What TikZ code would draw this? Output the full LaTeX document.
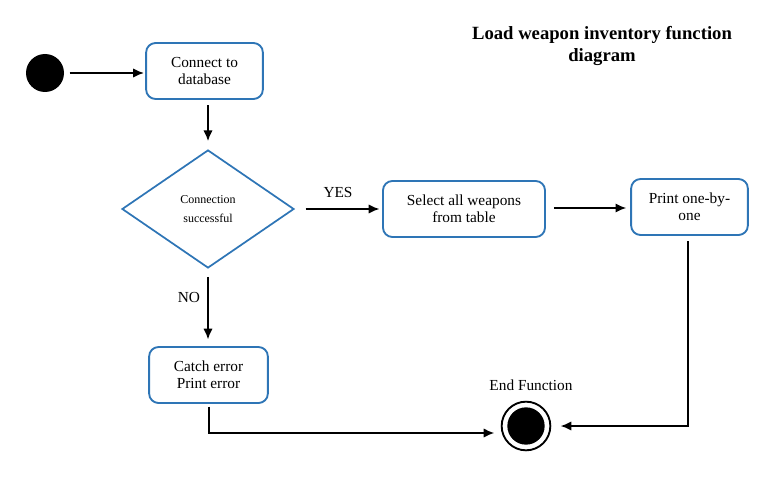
\documentclass[tikz,border=0pt]{standalone}
\usepackage{fontspec}
\setmainfont{Liberation Serif}
\usepackage{tikz}
\usetikzlibrary{shapes.geometric, arrows.meta}
\definecolor{boxblue}{RGB}{46,117,182}

\begin{document}
\begin{tikzpicture}[x=0.75pt, y=-0.75pt,
    act/.style={draw=boxblue, line width=1.4pt, rounded corners=7pt, align=center,
                inner sep=0pt, font=\fontsize{11.5}{13}\selectfont},
    choice/.style={draw=boxblue, line width=1.3pt, diamond, align=center, inner sep=0pt,
                minimum width=129pt, minimum height=88.5pt, font=\fontsize{9}{14}\selectfont},
    conn/.style={-{Latex[length=8pt,width=7pt]}, line width=1.3pt},
    lbl/.style={font=\fontsize{11.5}{13}\selectfont}]
  \useasboundingbox (0,0) rectangle (767,478);
  % title
  \node[font=\fontsize{14}{16}\selectfont\bfseries, align=center] (title) at (602,46)
       {Load weapon inventory function\\diagram};
  % states
  \node[circle, fill=black, minimum size=28.5pt, inner sep=0pt] (start) at (45,73) {};
  \node[act, minimum width=87.5pt, minimum height=42pt] (connect) at (204.5,71) {Connect to\\database};
  \node[choice] (check) at (208,209) {Connection\\successful};
  \node[act, minimum width=121.5pt, minimum height=42pt] (select) at (464,209) {Select all weapons\\from table};
  \node[act, minimum width=87.5pt, minimum height=42pt] (print) at (689.5,207) {Print one-by-\\one};
  \node[act, minimum width=89pt, minimum height=42pt] (catch) at (208.5,375) {Catch error\\Print error};
  \node[circle, draw=black, line width=1.4pt, minimum size=36.5pt, inner sep=0pt] (end) at (526,426) {};
  \node[circle, fill=black, minimum size=28pt, inner sep=0pt] (endin) at (end) {};
  \node[lbl] (endlbl) at (531,385) {End Function};
  % corners of the elbow lines
  \coordinate (c1) at (688,426);
  \coordinate (c2) at (209,433);
  \coordinate (c3) at (501,433);
  % connectors
  \draw[conn, shorten <=4pt, shorten >=1pt] (start) -- (start -| connect.west);
  \draw[conn, shorten <=4pt, shorten >=6pt] (connect.south -| check) -- (check.north);
  \draw[conn, shorten <=8pt, shorten >=2pt] (check) -- (select);
  \node[lbl] (yes) at (338,192) {YES};
  \draw[conn, shorten <=6pt, shorten >=3pt] (select.east) ++(0,-1) -- (print.west |- 0,208);
  \draw[conn, shorten <=6pt, shorten >=5pt] (check.south) -- (catch.north -| check.south);
  \node[lbl] (no) at (189,297) {NO};
  \draw[conn, shorten <=4pt, shorten >=7pt] (print.south -| c1) -- (c1) -- (end.east);
  \draw[conn, shorten <=2pt, shorten >=5pt] (catch.south -| c2) -- (c2) -- (c3);
\end{tikzpicture}
\end{document}
